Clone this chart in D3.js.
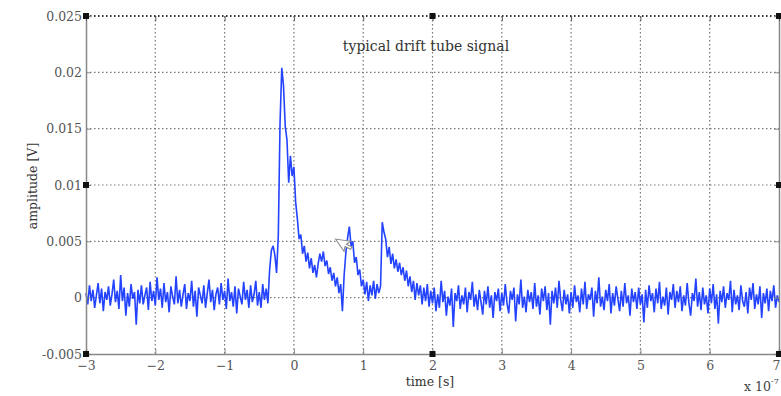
<!DOCTYPE html>
<html>
<head>
<meta charset="utf-8">
<script src="https://cdn.jsdelivr.net/npm/d3@7"></script>
<style>
  body { margin: 0; background: #fff; }
  svg { display: block; }
</style>
</head>
<body>
<div id="chart"></div>
<script>
// time axis in units of 1e-7 s, samples every 0.025
const tStart = -3;
const tStep = 0.025;

// amplitude in mV (20 samples per row = 0.5e-7 s)
const amplitudeMV = [
  0.4, -0.6, 1.1, -0.3, 0.7, -0.9, 0.2, 1.3, -0.5, 0.8, -1.2, 0.5, -0.2, 1.0, -0.7, 0.3, 1.6, -0.4, 0.6, -1.0,
  2.0, -0.3, 0.9, -1.6, 0.4, -0.8, 1.2, -0.1, 0.5, -2.4, 0.7, -0.5, 1.1, -0.6, 0.2, 0.9, -1.1, 1.4, -0.3, 0.6,
  -0.7, 1.8, -0.2, 0.8, -0.9, 1.3, -0.4, 0.5, -1.3, 1.0, 0.1, -0.6, 1.9, -0.5, 0.7, -0.8, 0.3, 1.2, -1.0, 0.4,
  -0.3, 1.5, -0.8, 0.6, -1.7, 0.9, 0.2, -0.5, 1.1, -0.9, 0.4, 1.6, -0.4, 0.7, -1.1, 0.3, 0.9, -0.6, 1.3, -0.2,
  0.6, -1.0, 1.7, -0.3, 0.5, -0.8, 1.0, -1.4, 0.8, 0.1, -0.6, 1.4, -0.2, 0.7, -0.9, 1.1, -0.4, 0.3, 1.5, -0.7,
  0.5, -0.9, 1.2, -0.2, 0.8, -0.5, 2.5, 4.2, 4.6, 3.8, 2.2, 5.5, 15.5, 20.4, 18.8, 15.2, 14.0, 10.2, 12.6, 10.8,
  11.6, 8.5, 7.0, 5.2, 5.6, 3.9, 4.6, 3.2, 4.0, 2.6, 3.5, 2.2, 2.9, 1.8, 3.0, 3.9, 3.2, 4.1, 2.8, 3.3,
  2.1, 2.7, 1.5, 2.2, 1.0, 1.8, 0.4, 1.2, -1.2, 2.0, 4.0, 5.3, 6.3, 4.6, 5.0, 3.1, 3.6, 2.0, 2.5, 1.0,
  1.6, 0.3, 1.4, -0.3, 1.1, 0.2, 1.5, -0.1, 1.2, 0.4, 1.0, 6.7, 5.8, 5.2, 3.6, 4.5, 3.0, 3.9, 2.6, 3.4,
  2.3, 3.1, 2.0, 2.7, 1.5, 2.4, 1.0, 1.9, 0.5, 1.5, -0.2, 1.3, 0.2, 1.1, -0.6, 0.9, -0.3, 1.2, -0.8, 0.6,
  -0.5, 0.9, -1.2, 0.3, -0.9, 1.5, -0.4, 0.6, -1.6, 0.1, -0.7, 0.8, -2.6, 0.4, -0.3, 1.1, -1.0, 0.2, -0.6, 0.9,
  -1.3, 0.5, -0.2, 1.4, -0.8, 0.3, -1.1, 0.7, -0.4, -1.5, 0.6, -0.6, 1.0, -0.9, 0.2, -1.8, 0.5, -0.3, 0.8, -1.2,
  0.4, -0.7, 1.2, -0.5, -1.4, 0.6, -0.2, 0.9, -2.1, 0.3, -0.6, 1.6, -0.9, 0.1, -1.3, 0.7, -0.4, 0.5, -1.0, 1.3,
  -0.8, 0.2, -1.5, 0.8, -0.3, 1.0, -1.1, 0.4, -2.4, 0.6, -0.5, 0.9, -0.9, 1.5, -0.2, -1.2, 0.7, -0.6, 0.3, -1.4,
  0.5, -0.9, 1.1, -0.4, 0.2, -1.3, 0.8, -0.6, 1.4, -1.0, 0.3, -0.2, 0.9, -1.7, 0.6, -0.5, 1.8, -0.8, 0.1, -1.1,
  0.7, -0.3, 1.2, -1.4, 0.4, -0.7, 1.0, -0.1, -1.2, 0.6, -0.8, 1.3, -0.5, 0.2, -1.6, 0.8, -0.4, 0.5, -1.0, 0.9,
  -0.6, 0.3, -2.2, 0.7, -0.9, 1.1, -0.3, 0.4, -1.3, 0.8, -0.5, 1.4, -1.0, 0.1, -0.7, 0.9, -1.5, 0.5, -0.2, 1.2,
  -0.9, 0.6, -0.4, 1.0, -1.2, 0.2, -0.7, 1.3, -0.5, -1.6, 0.4, -0.3, 1.7, -0.8, 0.5, -1.1, 0.9, -0.6, 0.2, -1.4,
  0.8, -0.5, 1.2, -1.0, 0.3, -2.3, 0.6, -0.4, 1.0, -0.9, 0.4, -0.2, 1.5, -1.3, 0.7, -0.6, 0.2, -1.1, 1.1, -0.3,
  -0.8, 0.5, -1.4, 0.9, -0.2, 1.3, -1.0, 0.3, -0.6, 1.0, -1.8, 0.4, -0.5, 0.8, -1.2, 0.6, -0.3, 1.1, -0.9, 0.2,
  -0.4
];

const xTicks = [-3, -2, -1, 0, 1, 2, 3, 4, 5, 6, 7];
const yTicks = [-0.005, 0, 0.005, 0.01, 0.015, 0.02, 0.025];
const yTickLabels = ['-0.005', '0', '0.005', '0.01', '0.015', '0.02', '0.025'];

const data = amplitudeMV.map((v, i) => ({ t: tStart + i * tStep, v: v / 1000 }));

const W = 781, H = 396;
const margin = { top: 16, right: 2, bottom: 42, left: 86 };
const width = W - margin.left - margin.right;
const height = H - margin.top - margin.bottom;
const font = '"DejaVu Serif", "Liberation Serif", serif';

const svg = d3.select('#chart').append('svg')
  .attr('width', W)
  .attr('height', H);

const g = svg.append('g')
  .attr('transform', `translate(${margin.left},${margin.top})`);

const x = d3.scaleLinear().domain([-3, 7]).range([0, width]);
const y = d3.scaleLinear().domain([-0.005, 0.025]).range([height, 0]);

// dotted grid
g.append('g')
  .selectAll('line')
  .data(xTicks.slice(1, -1))
  .enter().append('line')
  .attr('x1', d => x(d)).attr('x2', d => x(d))
  .attr('y1', 0).attr('y2', height)
  .attr('stroke', '#777')
  .attr('stroke-width', 1.2)
  .attr('stroke-dasharray', '1.5 2.5');

g.append('g')
  .selectAll('line')
  .data(yTicks.slice(1))
  .enter().append('line')
  .attr('x1', 0).attr('x2', width)
  .attr('y1', d => y(d)).attr('y2', d => y(d))
  .attr('stroke', d => d === 0.025 ? '#333' : '#777')
  .attr('stroke-width', d => d === 0.025 ? 1.8 : 1.2)
  .attr('stroke-dasharray', '1.5 2.5');

// signal
const line = d3.line()
  .x(d => x(d.t))
  .y(d => y(d.v));

g.append('path')
  .datum(data)
  .attr('fill', 'none')
  .attr('stroke', '#2343ff')
  .attr('stroke-width', 1.6)
  .attr('stroke-linejoin', 'bevel')
  .attr('d', line);

// axes
const axisColor = '#888';
const yAxis = g.append('g')
  .call(d3.axisLeft(y).tickValues(yTicks).tickSize(-5).tickPadding(4)
    .tickFormat((d, i) => yTickLabels[i]));
yAxis.select('.domain').attr('stroke', axisColor).attr('stroke-width', 1.5);
yAxis.selectAll('line').attr('stroke', axisColor);
yAxis.selectAll('text')
  .style('font-family', font).style('font-size', '12.5px').attr('fill', '#555');

const xAxis = g.append('g')
  .attr('transform', `translate(0,${height})`)
  .call(d3.axisBottom(x).tickValues(xTicks).tickSize(-5).tickPadding(7)
    .tickFormat(d3.format('d')));
xAxis.select('.domain').attr('stroke', axisColor).attr('stroke-width', 1.5);
xAxis.selectAll('line').attr('stroke', axisColor);
xAxis.selectAll('text')
  .style('font-family', font).style('font-size', '12.5px').attr('fill', '#555');
// last label sits against the window edge
xAxis.selectAll('.tick').filter(d => d === 7).select('text')
  .attr('text-anchor', 'end').attr('dx', 1);

// right and top edges with inward ticks
const rAxis = g.append('g')
  .attr('transform', `translate(${width},0)`)
  .call(d3.axisRight(y).tickValues(yTicks).tickSize(-5).tickFormat(''));
rAxis.select('.domain').attr('stroke', axisColor).attr('stroke-width', 1.5);
rAxis.selectAll('line').attr('stroke', axisColor);

const tAxis = g.append('g')
  .call(d3.axisTop(x).tickValues(xTicks).tickSize(-5).tickFormat(''));
tAxis.select('.domain').attr('stroke', 'none');
tAxis.selectAll('line').attr('stroke', '#555');

// selection handles
const handles = [
  [-3, 0.025], [2, 0.025], [7, 0.025],
  [-3, 0.01], [7, 0.01],
  [-3, -0.005], [2, -0.005], [7, -0.005]
];
g.append('g')
  .selectAll('rect')
  .data(handles)
  .enter().append('rect')
  .attr('x', d => x(d[0]) - 3)
  .attr('y', d => y(d[1]) - 3)
  .attr('width', 6).attr('height', 6)
  .attr('fill', '#111');

// title and labels
svg.append('text')
  .attr('x', 426).attr('y', 51)
  .attr('text-anchor', 'middle')
  .style('font-family', font).style('font-size', '14px')
  .attr('fill', '#333')
  .text('typical drift tube signal');

svg.append('text')
  .attr('transform', `translate(37,${margin.top + height / 2 + 1}) rotate(-90)`)
  .attr('text-anchor', 'middle')
  .style('font-family', font).style('font-size', '12.5px')
  .attr('fill', '#333')
  .text('amplitude [V]');

svg.append('text')
  .attr('x', 430).attr('y', 386)
  .attr('text-anchor', 'middle')
  .style('font-family', font).style('font-size', '12.5px')
  .attr('fill', '#333')
  .text('time [s]');

const exp = svg.append('text')
  .attr('x', 744).attr('y', 391)
  .style('font-family', font).style('font-size', '12.5px')
  .attr('fill', '#444');
exp.append('tspan').text('x 10');
exp.append('tspan').attr('dy', -7).style('font-size', '8px').text('-7');

// mouse pointer left on the plot
svg.append('path')
  .attr('transform', `translate(${margin.left + x(0.6)},${margin.top + y(0.0052)}) rotate(-35)`)
  .attr('d', 'M0,0 L0,15 L3.5,11.5 L6.5,17 L9,16 L6,10.5 L11,10.5 Z')
  .attr('fill', '#fff')
  .attr('stroke', '#888')
  .attr('stroke-width', 1);
</script>
</body>
</html>
